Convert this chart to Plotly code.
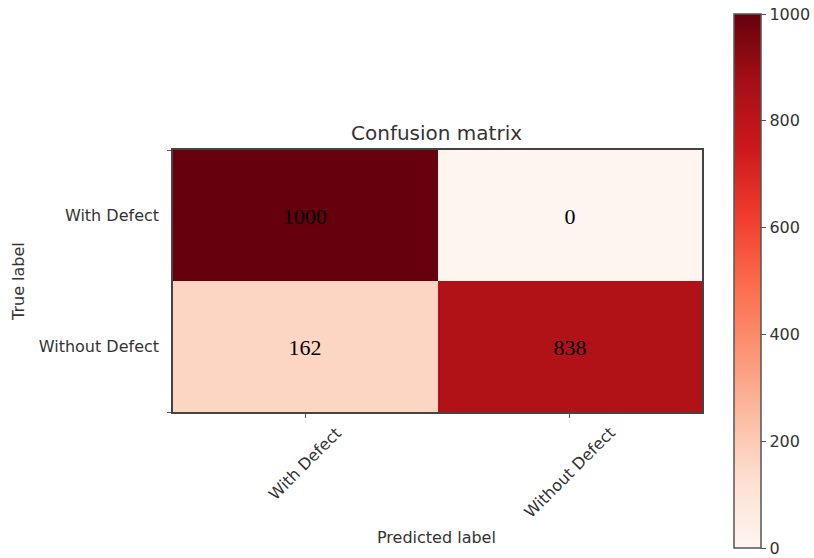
import plotly.graph_objects as go

# Class names and confusion counts (rows: true label, columns: predicted label)
class_names = ["With Defect", "Without Defect"]
counts = [
    [1000, 0],
    [162, 838],
]
cbar_ticks = [0, 200, 400, 600, 800, 1000]

# ColorBrewer "Reds" sequential scale
reds = ["#fff5f0", "#fee0d2", "#fcbba1", "#fc9272", "#fb6a4a",
        "#ef3b2c", "#cb181d", "#a50f15", "#67000d"]
colorscale = [[i / (len(reds) - 1), c] for i, c in enumerate(reds)]

W, H = 814, 558
idx = list(range(len(class_names)))
label_font = dict(family="DejaVu Sans", size=16, color="#333333")

fig = go.Figure(
    go.Heatmap(
        z=counts,
        x=idx,
        y=idx,
        zmin=0,
        zmax=1000,
        colorscale=colorscale,
        texttemplate="%{z}",
        textfont=dict(family="Liberation Serif, Times New Roman, serif", size=22, color="black"),
        hoverinfo="skip",
        colorbar=dict(
            x=734 / W, xanchor="left", xpad=0,
            y=(H - 281) / H, yanchor="middle", ypad=0,
            thickness=27,
            lenmode="pixels", len=534,
            outlinewidth=1.5, outlinecolor="#555555",
            tickvals=cbar_ticks,
            ticks="outside", ticklen=5, tickcolor="#555555", tickwidth=1,
            tickfont=label_font,
        ),
    )
)

axis_line = dict(showline=True, linecolor="#444444", linewidth=1.5, mirror=True,
                 showgrid=False, zeroline=False)

fig.update_xaxes(
    domain=[173 / W, 702 / W],
    range=[-0.5, 1.5],
    tickvals=idx,
    ticktext=["" for _ in class_names],
    ticks="outside", ticklen=4, tickcolor="#555555",
    **axis_line,
)
fig.update_yaxes(
    domain=[(H - 412) / H, (H - 150) / H],
    range=[1.5, -0.5],
    tickvals=idx,
    ticktext=class_names,
    ticks="", ticklabelstandoff=9,
    tickfont=label_font,
    minor=dict(tickvals=[-0.5, 1.5], ticks="outside", ticklen=4, tickcolor="#555555"),
    **axis_line,
)

annotations = [
    dict(text="Confusion matrix", x=436 / W, y=(H - 133) / H, xref="paper", yref="paper",
         xanchor="center", yanchor="middle", showarrow=False,
         font=dict(family="DejaVu Sans", size=20, color="#333333")),
    dict(text="True label", x=18 / W, y=(H - 282) / H, xref="paper", yref="paper",
         xanchor="center", yanchor="middle", textangle=-90, showarrow=False,
         font=label_font),
    dict(text="Predicted label", x=436 / W, y=(H - 537) / H, xref="paper", yref="paper",
         xanchor="center", yanchor="middle", showarrow=False, font=label_font),
]
# Rotated predicted-class labels, centred under each column
for i, name in enumerate(class_names):
    annotations.append(dict(
        text=name, x=i, xref="x", y=(H - 421) / H, yref="paper",
        xanchor="center", yanchor="top", textangle=-45, showarrow=False,
        font=label_font,
    ))

fig.update_layout(
    width=W, height=H,
    margin=dict(l=0, r=0, t=0, b=0),
    paper_bgcolor="white",
    plot_bgcolor="white",
    annotations=annotations,
)

fig.write_html("out.html")
